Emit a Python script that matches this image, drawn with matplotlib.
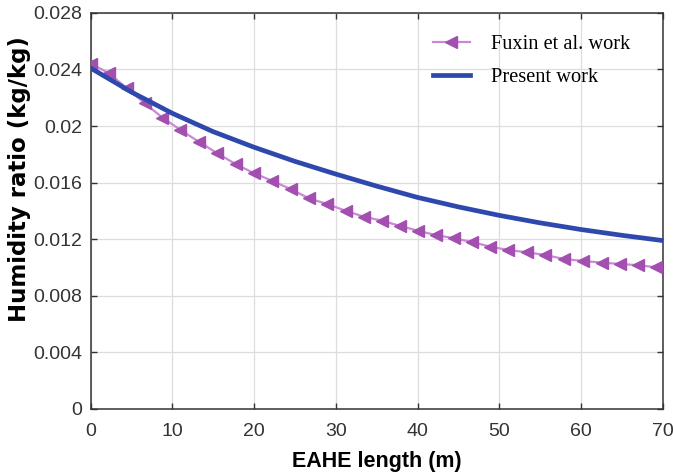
# Humidity ratio along the EAHE length: Fuxin et al. vs present work

import matplotlib.pyplot as plt

# Fuxin et al. work (markers)
fuxin_x = [0.1, 2.2, 4.45, 6.65, 8.8, 11.0, 13.3, 15.5, 17.8, 20.0, 22.2,
           24.5, 26.7, 28.9, 31.2, 33.4, 35.6, 37.9, 40.0, 42.2, 44.4,
           46.6, 48.9, 51.1, 53.4, 55.6, 57.9, 60.2, 62.5, 64.7, 66.9, 69.2]
fuxin_y = [0.02438, 0.02376, 0.02266, 0.02160, 0.02059, 0.01972, 0.01887,
           0.01807, 0.01729, 0.01666, 0.01613, 0.01553, 0.01489, 0.01449,
           0.01401, 0.01359, 0.01331, 0.01293, 0.01260, 0.01229, 0.01207,
           0.01180, 0.01147, 0.01123, 0.01107, 0.01088, 0.01060, 0.01046,
           0.01034, 0.01025, 0.01016, 0.01001]

# Present work (smooth curve)
present_x = [0, 5, 10, 15, 20, 25, 30, 35, 40, 45, 50, 55, 60, 65, 70]
present_y = [0.0241, 0.0224, 0.0209, 0.0196, 0.0185, 0.0175, 0.0166, 0.01575,
             0.01495, 0.01428, 0.01368, 0.01315, 0.01268, 0.01227, 0.0119]

xticks_values = [0, 10, 20, 30, 40, 50, 60, 70]
yticks_values = [0, 0.004, 0.008, 0.012, 0.016, 0.02, 0.024, 0.028]
yticks_labels = ["0", "0.004", "0.008", "0.012", "0.016", "0.02", "0.024", "0.028"]

plt.rcParams["font.family"] = ["Liberation Sans", "DejaVu Sans"]

fig = plt.figure(figsize=(6.73, 4.76), dpi=100)
ax = fig.add_axes([0.1345, 0.141, 0.8505, 0.832])

ax.plot(fuxin_x, fuxin_y, color="#c98ad4", linewidth=1.6, marker="<",
        markersize=8, markerfacecolor="#a24fb0", markeredgecolor="#a24fb0",
        label="Fuxin et al. work", zorder=3)
ax.plot(present_x, present_y, color="#2f48ad", linewidth=3.4,
        label="Present work", zorder=4)

ax.set_xlim(0, 70)
ax.set_ylim(0, 0.028)
ax.set_xticks(xticks_values)
ax.set_yticks(yticks_values)
ax.set_yticklabels(yticks_labels)
ax.tick_params(direction="in", top=True, right=True, length=4, width=1,
               labelsize=14, labelcolor="#333333", color="#333333")
ax.tick_params(axis="x", pad=10)
ax.tick_params(axis="y", pad=6)
for spine in ax.spines.values():
    spine.set_color("#333333")
    spine.set_linewidth(1.1)
ax.grid(True, color="#dddddd", linewidth=0.9)

ax.set_xlabel("EAHE length (m)", fontsize=15.5, fontweight="bold", labelpad=8)
ax.set_ylabel("Humidity ratio (kg/kg)", fontsize=16.5, fontweight="bold",
              family=["DejaVu Sans"])
ax.yaxis.set_label_coords(-0.104, 0.58)

leg = ax.legend(loc="upper left", bbox_to_anchor=(0.584, 0.965), frameon=False,
                prop={"family": "Liberation Serif", "size": 14.7},
                handlelength=1.8, handletextpad=1.05, borderaxespad=0,
                labelspacing=0.65)

fig.savefig("out.png", dpi=100)
